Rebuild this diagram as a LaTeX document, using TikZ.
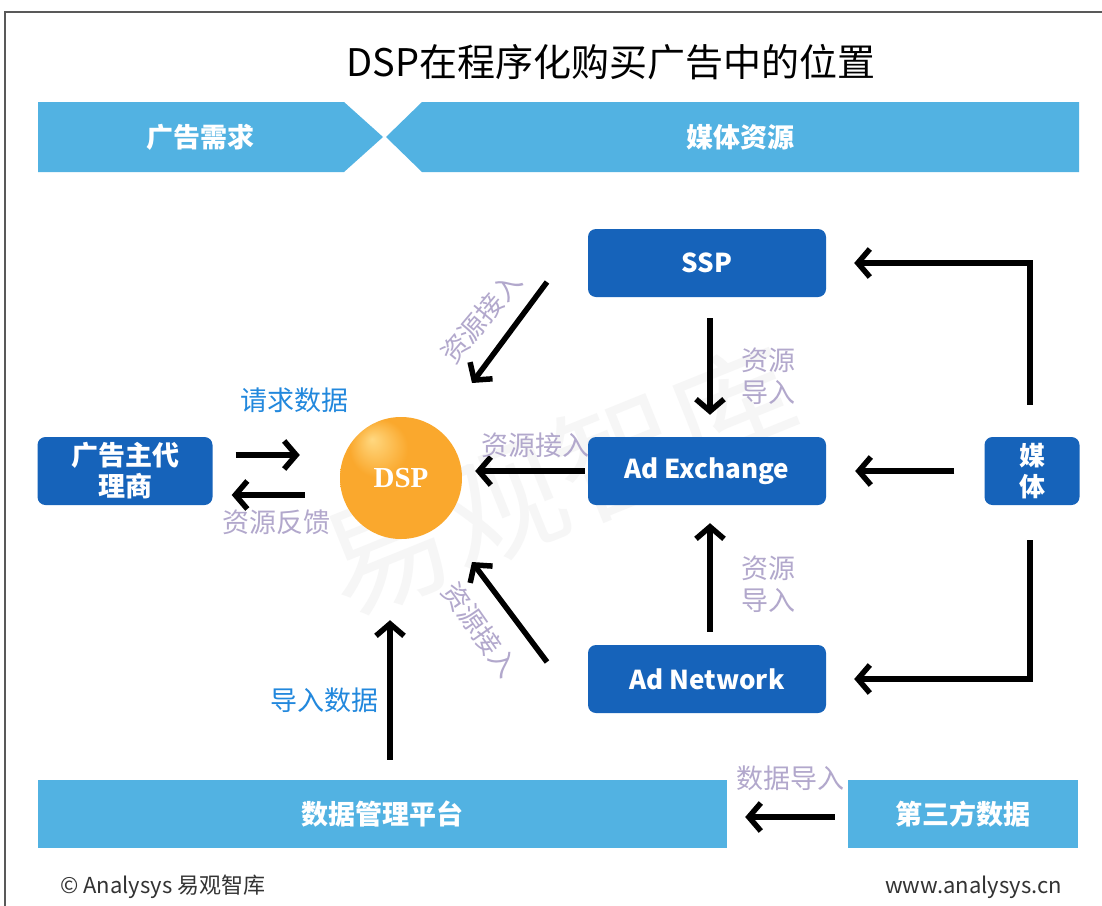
\documentclass[tikz,border=0pt]{standalone}
\usepackage{fontspec}
\setmainfont{Noto Sans CJK SC}
\newfontfamily\dspfont{Liberation Serif}
\usetikzlibrary{arrows.meta,shapes.geometric}
\definecolor{bannerblue}{RGB}{82,178,226}
\definecolor{boxblue}{RGB}{22,99,186}
\definecolor{lav}{RGB}{178,168,204}
\definecolor{lblue}{RGB}{34,136,221}
\definecolor{dspl}{RGB}{255,216,128}
\definecolor{dspm}{RGB}{250,168,45}
\definecolor{dspd}{RGB}{226,118,8}
\pgfdeclareradialshading{dspball}{\pgfpoint{-12bp}{16bp}}{color(0bp)=(dspl); color(12bp)=(dspm); color(36bp)=(dspm); color(50bp)=(dspd)}
\tikzset{
  darkbox/.style={fill=boxblue, rounded corners=8pt, minimum width=238pt, minimum height=68pt,
    text=white, font=\bfseries\fontsize{26}{30}\selectfont},
  lightbox/.style={fill=bannerblue, minimum height=68pt, text=white, font=\bfseries\fontsize{27}{30}\selectfont},
  flow/.style={line width=5.5pt, -{Straight Barb[length=12pt,width=28pt]}},
  lavlabel/.style={text=lav, font=\fontsize{27}{32}\selectfont, align=center, inner sep=0pt},
  bluelabel/.style={text=lblue, font=\fontsize{27}{30}\selectfont, inner sep=0pt},
  bannertext/.style={text=white, font=\bfseries\fontsize{27}{30}\selectfont},
}
\begin{document}
\begin{tikzpicture}[x=1pt,y=-1pt]
\useasboundingbox (0,0) rectangle (1102,905);
\fill[white] (0,0) rectangle (1102,905);
% frame
\draw[gray!70!black, line width=2pt] (5,920) -- (5,12) -- (1115,12);
% watermark
\node[text=gray!7, font=\fontsize{125}{125}\selectfont, rotate=22] (wm) at (560,480) {易观智库};
% title
\node[font=\fontsize{38}{44}\selectfont] (title) at (611,62) {DSP在程序化购买广告中的位置};
% banners
\fill[bannerblue] (38,102) -- (344,102) -- (383,137) -- (344,172) -- (38,172) -- cycle;
\fill[bannerblue] (422,102) -- (1079,102) -- (1079,172) -- (422,172) -- (386,137) -- cycle;
\node[bannertext] (demand) at (200,137) {广告需求};
\node[bannertext] (supply) at (740,137) {媒体资源};
% nodes
\node[darkbox] (ssp) at (707,263) {SSP};
\node[darkbox] (adex) at (707,471) {Ad Exchange};
\node[darkbox] (adnet) at (707,679) {Ad Network};
\node[darkbox, minimum width=95pt, align=center, font=\bfseries\fontsize{26}{31}\selectfont] (media) at (1032,471) {媒\\体};
\node[darkbox, minimum width=175pt, align=center, font=\bfseries\fontsize{27}{31}\selectfont] (agency) at (125,471) {广告主代\\理商};
\node[circle, minimum size=122pt, shading=dspball, text=white, font=\dspfont\bfseries\fontsize{29}{32}\selectfont] (dsp) at (401,478) {DSP};
\node[lightbox, minimum width=689pt] (dmp) at (382.5,814) {数据管理平台};
\node[lightbox, minimum width=230pt] (third) at (963,814) {第三方数据};
% connectors
\draw[flow, shorten <=32pt, shorten >=28pt] ([xshift=-2pt]media.north) |- (ssp.east);
\draw[flow, shorten <=30pt, shorten >=29pt] (media.west) -- (adex.east);
\draw[flow, shorten <=35pt, shorten >=28pt] ([xshift=-2pt]media.south) |- (adnet.east);
\draw[flow, shorten <=21pt, shorten >=22pt] ([xshift=3pt]ssp.south) -- ([xshift=3pt]adex.north);
\draw[flow, shorten <=13pt, shorten >=18pt] ([xshift=3pt]adnet.north) -- ([xshift=3pt]adex.south);
\draw[flow, shorten <=3pt, shorten >=13pt] (adex.west) -- (adex.west -| dsp.east);
\coordinate (s1) at (547,282);
\coordinate (s2) at (472,383);
\draw[flow] (s1) -- (s2);
\coordinate (n1) at (547,662);
\coordinate (n2) at (472,562);
\draw[flow] (n1) -- (n2);
\draw[flow, shorten <=23pt, shorten >=40pt] ([yshift=16pt]agency.east) -- ([yshift=16pt]agency.east -| dsp.west);
\draw[flow, shorten <=35pt, shorten >=19pt] ([yshift=-17pt]dsp.west) -- ([yshift=-17pt]dsp.west -| agency.east);
\draw[flow, shorten <=20pt, shorten >=81pt] ([xshift=-11pt]dmp.north -| dsp.south) -- ([xshift=-11pt]dsp.south);
\draw[flow, shorten <=13pt, shorten >=18pt] ([yshift=-3pt]third.west) -- ([yshift=-3pt]dmp.east);
% labels
\node[bluelabel] (l1) at (294,400) {请求数据};
\node[lavlabel] (l2) at (276,522) {资源反馈};
\node[lavlabel] (l3) at (535,445) {资源接入};
\node[lavlabel, rotate=50] (l4) at (481,318) {资源接入};
\node[lavlabel, rotate=-55] (l5) at (480,630) {资源接入};
\node[lavlabel] (l6) at (768,376) {资源\\导入};
\node[lavlabel] (l7) at (768,584) {资源\\导入};
\node[bluelabel] (l8) at (324,700) {导入数据};
\node[lavlabel] (l9) at (790,778) {数据导入};
% footer
\node[anchor=west, text=black!80, font=\fontsize{22}{26}\selectfont, inner sep=0pt] (copy) at (60,887) {© Analysys 易观智库};
\node[anchor=east, text=black!80, font=\fontsize{22}{26}\selectfont, inner sep=0pt] (web) at (1062,887) {www.analysys.cn};
\end{tikzpicture}
\end{document}
